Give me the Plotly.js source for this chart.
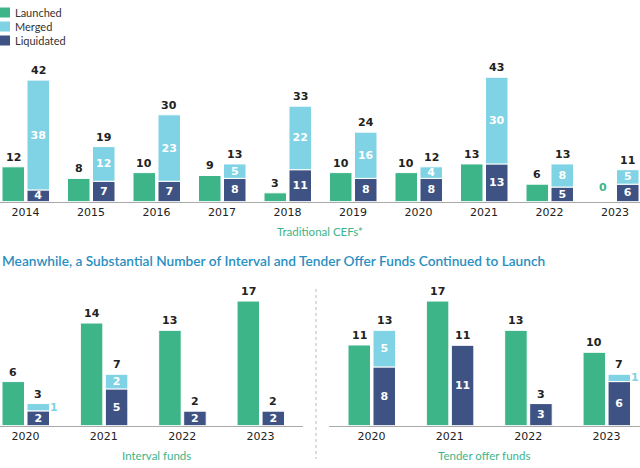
<!DOCTYPE html>
<html>
<head>
<meta charset="utf-8">
<script src="https://cdn.plot.ly/plotly-3.0.1.min.js"></script>
<style>html,body{margin:0;padding:0;background:#fff}#chart{width:640px;height:468px}</style>
</head>
<body>
<div id="chart"></div>
<script>
// ---- Data ----
const cefYears = ['2014','2015','2016','2017','2018','2019','2020','2021','2022','2023'];
const cefLaunched = [12, 8, 10, 9, 3, 10, 10, 13, 6, 0];
const cefMerged = [38, 12, 23, 5, 22, 16, 4, 30, 8, 5];
const cefLiquidated = [4, 7, 7, 8, 11, 8, 8, 13, 5, 6];

const intYears = ['2020','2021','2022','2023'];
const intLaunched = [6, 14, 13, 17];
const intMerged = [1, 2, 0, 0];
const intLiquidated = [2, 5, 2, 2];

const tenYears = ['2020','2021','2022','2023'];
const tenLaunched = [11, 17, 13, 10];
const tenMerged = [5, 0, 0, 1];
const tenLiquidated = [8, 11, 3, 6];

const seriesNames = ['Launched', 'Merged', 'Liquidated'];

// ---- Styles ----
const W = 640, H = 468;
const GREEN = '#3eb489', LBLUE = '#7fd3e4', NAVY = '#3e5283';
const NUMFONT = 'DejaVu Sans';
const TXTFONT = 'Lato, "Noto Sans", sans-serif';
const px = v => v / W;
const py = v => 1 - v / H;

const traces = [];
const annotations = [];

function addChart(ax, cats, launched, merged, liquidated, ppu) {
  const xs = cats.map((_, i) => i);
  const xa = 'x' + (ax === 1 ? '' : ax), ya = 'y' + (ax === 1 ? '' : ax);
  const bw = 22.5 / ppu;
  const offL = -23.5 / ppu, offR = 1.5 / ppu;
  const line = {color: '#ffffff', width: 1};
  traces.push({type: 'bar', x: xs, y: launched, xaxis: xa, yaxis: ya, name: seriesNames[0],
    offset: offL, width: bw, marker: {color: GREEN, line: line}, showlegend: false, hoverinfo: 'skip'});
  traces.push({type: 'bar', x: xs, y: liquidated, xaxis: xa, yaxis: ya, name: seriesNames[2],
    offset: offR, width: bw, marker: {color: NAVY, line: line}, showlegend: false, hoverinfo: 'skip',
    text: liquidated.map(v => v > 0 ? String(v) : ''), textposition: 'inside', insidetextanchor: 'middle',
    constraintext: 'none', textangle: 0,
    textfont: {family: NUMFONT, size: 11, color: '#ffffff', weight: 'bold'}});
  traces.push({type: 'bar', x: xs, y: merged, base: liquidated, xaxis: xa, yaxis: ya, name: seriesNames[1],
    offset: offR, width: bw, marker: {color: LBLUE, line: line}, showlegend: false, hoverinfo: 'skip',
    text: merged.map(v => v > 1 ? String(v) : ''), textposition: 'inside', insidetextanchor: 'middle',
    constraintext: 'none', textangle: 0,
    textfont: {family: NUMFONT, size: 11, color: '#ffffff', weight: 'bold'}});
  xs.forEach(i => {
    annotations.push({xref: xa, yref: ya, x: i + offL + bw / 2, y: launched[i], yanchor: 'bottom',
      text: String(launched[i]), showarrow: false, yshift: launched[i] === 0 ? 6 : 1,
      font: {family: NUMFONT, size: 11, color: launched[i] === 0 ? GREEN : '#222', weight: 'bold'}});
    const tot = merged[i] + liquidated[i];
    annotations.push({xref: xa, yref: ya, x: i + offR + bw / 2, y: tot, yanchor: 'bottom',
      text: String(tot), showarrow: false, yshift: 1,
      font: {family: NUMFONT, size: 11, color: '#222', weight: 'bold'}});
    if (merged[i] === 1) {
      annotations.push({xref: xa, yref: ya, x: i + offR + bw, y: liquidated[i] + merged[i] / 2,
        xanchor: 'left', yanchor: 'middle', xshift: -1, borderpad: 0, text: String(merged[i]), showarrow: false,
        font: {family: NUMFONT, size: 11, color: LBLUE, weight: 'bold'}});
    }
  });
}

const topPPU = 65.5, botPPU = 78.35;
addChart(1, cefYears, cefLaunched, cefMerged, cefLiquidated, topPPU);
addChart(2, intYears, intLaunched, intMerged, intLiquidated, botPPU);
addChart(3, tenYears, tenLaunched, tenMerged, tenLiquidated, botPPU);

function xAxis(domL, domR, c0, cats, ppu, anchor) {
  const start = -c0 / ppu;
  return {domain: [px(domL), px(domR)], range: [start, start + (domR - domL) / ppu], anchor: anchor,
    tickvals: cats.map((_, i) => i), ticktext: cats, showgrid: false, zeroline: false,
    showline: true, linecolor: '#aaaaaa', linewidth: 1.5, ticks: '', fixedrange: true,
    tickfont: {family: NUMFONT, size: 11, color: '#222'}};
}
function yAxis(base, top, ppu, anchor) {
  return {domain: [py(base), py(top)], range: [0, (base - top) / ppu], anchor: anchor, visible: false, fixedrange: true};
}

// Titles
annotations.push({xref: 'paper', yref: 'paper', x: px(320), y: py(231), xanchor: 'center', yanchor: 'middle',
  text: 'Traditional CEFs*', showarrow: false, font: {family: TXTFONT, size: 11.5, color: GREEN}});
annotations.push({xref: 'paper', yref: 'paper', x: px(0), y: py(260), xanchor: 'left', yanchor: 'middle',
  text: 'Meanwhile, a Substantial Number of Interval and Tender Offer Funds Continued to Launch', showarrow: false,
  font: {family: TXTFONT, size: 13.7, color: '#2a8fc1', weight: 600}});
annotations.push({xref: 'paper', yref: 'paper', x: px(156), y: py(455), xanchor: 'center', yanchor: 'middle',
  text: 'Interval funds', showarrow: false, font: {family: TXTFONT, size: 11.5, color: GREEN}});
annotations.push({xref: 'paper', yref: 'paper', x: px(484), y: py(455), xanchor: 'center', yanchor: 'middle',
  text: 'Tender offer funds', showarrow: false, font: {family: TXTFONT, size: 11.5, color: GREEN}});

// Legend (manual)
const shapes = [];
const legColors = [GREEN, LBLUE, NAVY];
seriesNames.forEach((n, k) => {
  const yc = 12.5 + k * 14;
  shapes.push({type: 'rect', xref: 'paper', yref: 'paper', x0: px(0), x1: px(10), y0: py(yc + 5), y1: py(yc - 5),
    fillcolor: legColors[k], line: {width: 0}});
  annotations.push({xref: 'paper', yref: 'paper', x: px(13), y: py(yc), xanchor: 'left', yanchor: 'middle',
    text: n, showarrow: false, font: {family: TXTFONT, size: 11, color: '#333'}});
});
// Divider
shapes.push({type: 'line', xref: 'paper', yref: 'paper', x0: px(316), x1: px(316), y0: py(289), y1: py(459),
  line: {color: '#bbbbbb', width: 1, dash: 'dot'}});

const layout = {
  width: W, height: H, margin: {l: 0, r: 0, t: 0, b: 0},
  paper_bgcolor: '#fff', plot_bgcolor: 'rgba(0,0,0,0)', barmode: 'overlay', showlegend: false,
  xaxis: xAxis(0, 640, 25.5, cefYears, topPPU, 'y'),
  yaxis: yAxis(201.5, 60, 2.89, 'x'),
  xaxis2: xAxis(0, 303, 25.5, intYears, botPPU, 'y2'),
  yaxis2: yAxis(425.5, 290, 7.32, 'x2'),
  xaxis3: xAxis(329, 640, 42.5, tenYears, botPPU, 'y3'),
  yaxis3: yAxis(425.5, 290, 7.32, 'x3'),
  annotations: annotations, shapes: shapes
};
Plotly.newPlot('chart', traces, layout, {displayModeBar: false, staticPlot: true});
</script>
</body>
</html>
